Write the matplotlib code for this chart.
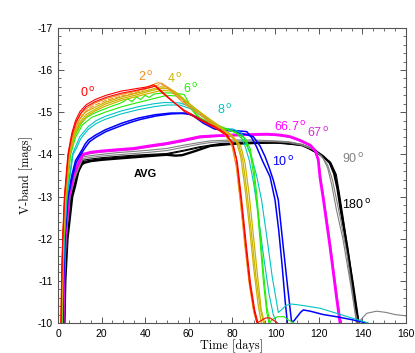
import matplotlib
matplotlib.use("Agg")
import matplotlib.pyplot as plt
from matplotlib.ticker import MultipleLocator

plt.rcParams["axes.unicode_minus"] = False
plt.rcParams["font.family"] = ["Liberation Sans", "DejaVu Sans"]

# ---- light curves (time in days, V-band absolute mag) ----
# 0 deg
T_0A = [1.3, 1.6, 2.1, 2.9, 4.5, 6.3, 8.0, 10.1, 13, 17, 22, 29, 36, 41, 44, 47, 52, 58, 65, 72, 77, 80, 82, 84, 86, 88, 90, 91.5, 93.5, 95.5, 97.5, 99.5, 101]
M_0A = [-10.0, -11.0, -12.0, -13.0, -14.0, -14.5, -14.8, -15.02, -15.18, -15.3, -15.4, -15.5, -15.56, -15.6, -15.65, -15.5, -15.28, -15.05, -14.85, -14.66, -14.5, -14.3, -13.9, -13.0, -12.0, -11.0, -10.35, -10.0, -10.06, -10.12, -10.12, -10.05, -10.0]
T_0B = [1.35, 1.65, 2.15, 3.0, 4.7, 6.5, 8.3, 10.5, 13, 17, 22, 29, 36, 41, 45, 48, 53, 58, 65, 72, 77, 80.5, 82.5, 84.5, 86.5, 88.5, 90.5, 92]
M_0B = [-10.0, -11.0, -12.0, -13.0, -14.0, -14.48, -14.77, -14.98, -15.13, -15.25, -15.35, -15.45, -15.52, -15.57, -15.62, -15.48, -15.25, -15.02, -14.82, -14.63, -14.47, -14.25, -13.8, -12.9, -11.9, -10.95, -10.3, -10.0]
# 2 deg
T_2A = [1.4, 1.7, 2.2, 3.1, 4.8, 6.8, 8.7, 11, 14, 17, 22, 29, 36, 42, 46, 48, 52, 58, 65, 72, 77, 80, 82, 84, 86, 88, 90, 91.5]
M_2A = [-10.0, -11.0, -12.0, -13.0, -14.0, -14.5, -14.8, -15.0, -15.12, -15.22, -15.32, -15.42, -15.5, -15.62, -15.7, -15.68, -15.5, -15.2, -14.95, -14.68, -14.45, -14.2, -13.7, -12.8, -11.8, -10.9, -10.25, -10.0]
T_2B = [1.45, 1.75, 2.25, 3.2, 4.9, 7.0, 9.0, 11.5, 14, 17, 22, 29, 36, 42, 47, 50, 54, 60, 66, 72, 77, 80, 82, 84, 86, 88, 90, 91.5]
M_2B = [-10.0, -11.0, -12.0, -13.0, -14.0, -14.48, -14.76, -14.96, -15.07, -15.17, -15.28, -15.38, -15.47, -15.58, -15.66, -15.62, -15.42, -15.15, -14.92, -14.7, -14.5, -14.25, -13.75, -12.85, -11.85, -10.95, -10.3, -10.0]
# 4 deg
T_4A = [1.5, 1.8, 2.3, 3.3, 5.1, 7.2, 9.5, 12.5, 17, 22, 29, 36, 42, 47, 50, 54, 60, 66, 72, 78, 82, 84, 86, 88, 90, 92, 93.5]
M_4A = [-10.0, -11.0, -12.0, -13.0, -14.0, -14.5, -14.8, -15.0, -15.12, -15.24, -15.36, -15.45, -15.53, -15.6, -15.6, -15.48, -15.22, -14.97, -14.72, -14.5, -14.3, -13.95, -13.2, -12.3, -11.3, -10.45, -10.0]
T_4B = [1.55, 1.85, 2.4, 3.4, 5.2, 7.4, 9.8, 13, 17, 22, 29, 36, 42, 48, 51, 55, 61, 67, 73, 79, 83, 85, 87, 89, 91, 93, 94.5]
M_4B = [-10.0, -11.0, -12.0, -13.0, -14.0, -14.47, -14.75, -14.95, -15.07, -15.2, -15.32, -15.41, -15.5, -15.57, -15.55, -15.42, -15.16, -14.93, -14.7, -14.48, -14.25, -13.85, -13.05, -12.1, -11.1, -10.35, -10.0]
T_4C = [1.6, 1.9, 2.45, 3.5, 5.4, 7.6, 10, 13.5, 17, 22, 29, 36, 42, 48, 52, 56, 62, 68, 74, 80, 84, 86, 88, 90, 92, 93.5, 95]
M_4C = [-10.0, -11.0, -12.0, -13.0, -14.0, -14.45, -14.72, -14.92, -15.03, -15.15, -15.28, -15.37, -15.45, -15.52, -15.5, -15.38, -15.12, -14.9, -14.68, -14.45, -14.2, -13.8, -13.0, -12.0, -11.0, -10.3, -10.0]
# 6 deg
T_6A = [1.7, 2.0, 2.5, 3.6, 5.6, 7.8, 10.9, 13, 15.5, 18.5, 21.6, 25, 28, 30, 32, 34, 36, 38, 40, 42, 44, 49, 54, 58, 62, 66, 72, 78, 82, 86, 88.5, 90, 91.5, 93, 94.5, 96, 97, 99, 101, 104, 106, 108.5]
M_6A = [-10.0, -11.0, -12.0, -13.0, -14.0, -14.45, -14.75, -14.87, -14.95, -15.02, -15.08, -15.15, -15.2, -15.25, -15.32, -15.25, -15.36, -15.3, -15.4, -15.35, -15.43, -15.46, -15.45, -15.42, -15.05, -14.82, -14.72, -14.6, -14.5, -14.3, -14.0, -13.5, -12.8, -11.9, -10.95, -10.25, -10.0, -10.1, -10.15, -10.15, -10.07, -10.0]
T_6B = [1.75, 2.05, 2.6, 3.7, 5.8, 8.0, 11.2, 15.5, 21.6, 29.3, 36, 44.6, 50, 56, 60, 64, 70, 76, 82, 86, 88.3, 90, 91.5, 93, 94.5, 96, 97.5]
M_6B = [-10.0, -11.0, -12.0, -13.0, -14.0, -14.4, -14.7, -14.88, -15.0, -15.13, -15.22, -15.33, -15.4, -15.38, -15.15, -14.9, -14.75, -14.62, -14.52, -14.38, -14.15, -13.7, -13.0, -12.1, -11.2, -10.4, -10.0]
# 8 deg
T_8A = [1.9, 2.2, 2.8, 4.0, 6.6, 7.8, 10, 13.9, 17.5, 21.6, 29, 36.9, 44, 49, 56, 60, 65, 70, 74.5, 80.6, 84.4, 86.5, 88.3, 90, 91.3, 93.6, 96, 98.5, 100.5, 101.3, 102.5, 105, 107.4, 112, 120.5, 130, 142.7]
M_8A = [-10.0, -11.0, -12.0, -13.0, -14.0, -14.15, -14.42, -14.66, -14.8, -14.9, -15.03, -15.13, -15.2, -15.23, -15.22, -15.15, -15.0, -14.8, -14.62, -14.6, -14.5, -14.3, -14.03, -13.75, -13.5, -12.92, -12.05, -11.1, -10.5, -10.25, -10.3, -10.42, -10.45, -10.42, -10.35, -10.2, -10.0]
T_8B = [1.95, 2.3, 2.9, 4.2, 6.9, 8.2, 10.5, 14, 17.5, 21.6, 29, 36.9, 44, 50, 56, 61, 66, 71, 76, 81, 84, 86, 88, 90, 92, 94.5, 97, 99, 100.5]
M_8B = [-10.0, -11.0, -12.0, -13.0, -14.0, -14.12, -14.38, -14.6, -14.73, -14.83, -14.96, -15.06, -15.13, -15.17, -15.17, -15.08, -14.92, -14.74, -14.6, -14.55, -14.45, -14.2, -13.85, -13.3, -12.6, -11.6, -10.7, -10.2, -10.0]
# 10 deg
T_10A = [2.1, 2.4, 3.0, 4.4, 6.3, 8, 9.5, 10.9, 12.5, 13.9, 17, 21.6, 25, 29.3, 33, 36.9, 44.6, 52, 58.4, 62, 66.8, 72, 80.6, 89.8, 92.9, 95.2, 97, 99, 101.3, 103.6, 105.5, 107.4, 108.5, 110, 111.5, 112.8, 116, 122, 128, 135, 142]
M_10A = [-10.0, -11.0, -12.0, -13.0, -13.5, -13.85, -13.98, -14.1, -14.25, -14.34, -14.45, -14.58, -14.65, -14.74, -14.8, -14.86, -14.94, -14.98, -14.98, -14.92, -14.74, -14.6, -14.55, -14.42, -14.2, -13.95, -13.7, -13.39, -12.92, -11.8, -10.9, -10.03, -10.05, -10.15, -10.25, -10.31, -10.28, -10.2, -10.15, -10.08, -10.0]
T_10B = [2.15, 2.5, 3.1, 4.6, 6.5, 8.3, 9.8, 11.2, 13, 14.5, 17.5, 22, 26, 30, 34, 38, 45, 52, 57, 61, 65, 70, 76, 82, 86.8, 89, 91.3, 94, 97.5, 99.8, 101.5, 103, 104.5, 105.5]
M_10B = [-10.0, -11.0, -12.0, -13.0, -13.45, -13.8, -13.95, -14.06, -14.2, -14.3, -14.41, -14.54, -14.62, -14.7, -14.77, -14.83, -14.91, -14.96, -14.97, -14.95, -14.85, -14.7, -14.6, -14.56, -14.54, -14.4, -14.18, -13.85, -13.47, -12.92, -12.2, -11.4, -10.5, -10.0]
# 66.7 deg and 67 deg
T_667 = [2.3, 2.6, 3.3, 5.0, 7.0, 9.5, 11.3, 15, 20, 27, 34.6, 42, 50, 58, 65.3, 72, 80.6, 88, 96, 102, 106.7, 111, 115.9, 118.2, 119.7, 120.5, 122, 125, 128, 129.7]
M_667 = [-10.0, -11.0, -12.0, -13.0, -13.5, -13.8, -14.0, -14.05, -14.08, -14.11, -14.14, -14.2, -14.26, -14.34, -14.42, -14.44, -14.46, -14.47, -14.48, -14.46, -14.42, -14.34, -14.22, -14.1, -13.87, -13.45, -12.95, -11.85, -10.65, -10.0]
T_67 = [2.35, 2.7, 3.4, 5.1, 7.1, 9.6, 11.4, 15, 20, 27, 34.6, 42, 50, 58, 65.3, 72, 80.6, 88, 96, 102, 106.7, 111, 115.9, 118.5, 120, 121, 122.5, 125.5, 128.5, 130.2]
M_67 = [-10.0, -11.0, -12.0, -13.0, -13.48, -13.78, -13.97, -14.02, -14.05, -14.08, -14.11, -14.17, -14.23, -14.31, -14.39, -14.42, -14.44, -14.45, -14.46, -14.44, -14.4, -14.32, -14.2, -14.05, -13.8, -13.4, -12.9, -11.8, -10.6, -10.0]
# 90 deg
T_90A = [2.5, 2.8, 3.6, 5.4, 7.5, 9.8, 11.3, 15, 20, 27, 35, 42, 50, 58, 65, 70, 80, 90, 100, 106, 112, 116, 119, 122, 124, 125.8, 128, 131, 134.3, 136.5, 138, 140, 142, 146.5, 151, 155, 160]
M_90A = [-10.0, -11.0, -12.0, -13.0, -13.45, -13.75, -13.94, -13.97, -14.0, -14.04, -14.07, -14.1, -14.14, -14.22, -14.28, -14.32, -14.34, -14.34, -14.32, -14.3, -14.24, -14.16, -14.06, -13.9, -13.68, -13.3, -12.7, -12.0, -11.0, -10.3, -10.0, -10.12, -10.23, -10.28, -10.25, -10.2, -10.17]
T_90B = [2.55, 2.9, 3.7, 5.6, 7.7, 9.9, 11.4, 15, 20, 27, 35, 42, 50, 58, 65, 70, 80, 90, 100, 106, 112, 117, 121, 124, 126.2, 128, 130, 133, 135.5, 137.2]
M_90B = [-10.0, -11.0, -12.0, -13.0, -13.43, -13.72, -13.9, -13.93, -13.96, -13.99, -14.02, -14.05, -14.09, -14.17, -14.24, -14.28, -14.31, -14.31, -14.3, -14.28, -14.22, -14.12, -13.97, -13.75, -13.4, -12.95, -12.45, -11.6, -10.7, -10.0]
# 180 deg
T_180A = [2.7, 3.0, 3.9, 5.9, 8.0, 10.0, 11.4, 15, 20, 27, 35, 42, 50, 58, 65, 70, 75, 90, 100, 112.6, 116, 120.5, 123, 125, 127.4, 128.9, 130.4, 132.5, 135, 137.6]
M_180A = [-10.0, -11.0, -12.0, -13.0, -13.4, -13.7, -13.86, -13.89, -13.92, -13.95, -13.98, -14.0, -14.02, -14.1, -14.18, -14.22, -14.26, -14.28, -14.28, -14.22, -14.12, -13.99, -13.9, -13.83, -13.56, -13.1, -12.6, -11.85, -11.02, -10.0]
T_180B = [2.75, 3.1, 4.0, 6.0, 8.1, 10.1, 11.5, 15, 20, 27, 35, 42, 50, 58, 65, 70, 75, 90, 100, 112.6, 116.5, 121, 123.5, 125.5, 128, 129.5, 131, 133, 135.8, 138.5]
M_180B = [-10.0, -11.0, -12.0, -13.0, -13.38, -13.67, -13.83, -13.86, -13.9, -13.93, -13.96, -13.98, -14.0, -14.08, -14.16, -14.2, -14.24, -14.27, -14.27, -14.21, -14.1, -13.97, -13.88, -13.8, -13.52, -13.05, -12.55, -11.85, -10.95, -10.0]
# average
T_AVG = [2.9, 3.3, 4.3, 6.5, 7.8, 9.3, 10.9, 12, 15, 20, 27, 34.6, 42, 47, 50, 54, 57, 62, 70, 80, 90, 100, 106, 112, 118, 122, 125, 127, 128.5, 130, 133, 136, 138]
M_AVG = [-10.0, -11.0, -12.0, -13.0, -13.25, -13.6, -13.76, -13.8, -13.84, -13.87, -13.9, -13.93, -13.96, -13.98, -13.99, -13.97, -13.98, -14.06, -14.2, -14.25, -14.27, -14.28, -14.27, -14.22, -14.1, -13.95, -13.8, -13.55, -13.2, -12.7, -11.8, -10.7, -10.0]

RED = "#ff0000"
ORANGE = "#f0901e"
YELLOW = "#ccb400"
GREEN = "#22ee00"
CYAN = "#00c4c4"
BLUE = "#0000ff"
MAGENTA = "#ff00ff"
MAGENTA2 = "#cc33cc"
GRAY = "#808080"
BLACK = "#000000"

fig = plt.figure(figsize=(4.15, 3.53), dpi=100)
ax = fig.add_axes([0.140, 0.085, 0.838, 0.836])

curves = [
    (T_AVG, M_AVG, BLACK, 1.7, "-"),
    (T_180A, M_180A, BLACK, 0.8, "-"),
    (T_180B, M_180B, BLACK, 0.8, "-"),
    (T_90A, M_90A, GRAY, 0.8, "-"),
    (T_90B, M_90B, GRAY, 0.8, "-"),
    (T_67, M_67, MAGENTA2, 0.8, "-"),
    (T_667, M_667, MAGENTA, 2.0, "-"),
    (T_10A, M_10A, BLUE, 1.1, "-"),
    (T_10B, M_10B, BLUE, 1.1, "-"),
    (T_8A, M_8A, CYAN, 0.8, "-"),
    (T_8B, M_8B, CYAN, 0.8, "-"),
    (T_6A, M_6A, GREEN, 0.8, "-"),
    (T_6B, M_6B, GREEN, 0.8, "-"),
    (T_4A, M_4A, YELLOW, 0.9, "-"),
    (T_4B, M_4B, YELLOW, 0.9, "-"),
    (T_4C, M_4C, YELLOW, 0.9, "-"),
    (T_2A, M_2A, ORANGE, 0.8, "-"),
    (T_2B, M_2B, ORANGE, 0.8, (0, (5, 1.2))),
    (T_0B, M_0B, RED, 0.8, "-"),
    (T_0A, M_0A, RED, 0.8, "-"),
]
for t, m, c, lw, ls in curves:
    ax.plot(t, m, color=c, lw=lw, ls=ls, solid_joinstyle="round")

ax.set_xlim(0, 160)
ax.set_ylim(-10, -17)
ax.xaxis.set_major_locator(MultipleLocator(20))
ax.xaxis.set_minor_locator(MultipleLocator(5))
ax.yaxis.set_major_locator(MultipleLocator(1))
ax.yaxis.set_minor_locator(MultipleLocator(0.2))
ax.tick_params(which="both", direction="in", top=True, right=True,
               color="#555555", labelsize=7.5, pad=4)
ax.tick_params(which="major", length=4, width=0.7)
ax.tick_params(which="minor", length=2.2, width=0.6)
for s in ax.spines.values():
    s.set_color("#555555")
    s.set_linewidth(0.8)

ax.set_xlabel("Time [days]", family="cmr10", fontsize=8.8, labelpad=1)
ax.set_ylabel("V-band [mags]", family="cmr10", fontsize=8.8, labelpad=3)

labels = [
    (13.8, -15.46, "0", RED),
    (40.3, -15.83, "2", ORANGE),
    (53.8, -15.79, "4", YELLOW),
    (61.1, -15.55, "6", GREEN),
    (76.8, -15.05, "8", CYAN),
    (106.7, -14.65, "66.7", MAGENTA),
    (119.5, -14.51, "67", MAGENTA2),
    (103.4, -13.82, "10", BLUE),
    (135.6, -13.89, "90", GRAY),
    (137.5, -12.80, "180", BLACK),
]
for t, m, s, c in labels:
    ax.text(t, m, s + r"$^{\,\mathrm{o}}$", color=c, fontsize=9,
            ha="center", va="center")
ax.text(40, -13.54, "AVG", color=BLACK, fontsize=8, fontweight="bold",
        ha="center", va="center")

fig.savefig("out.png", dpi=100)
